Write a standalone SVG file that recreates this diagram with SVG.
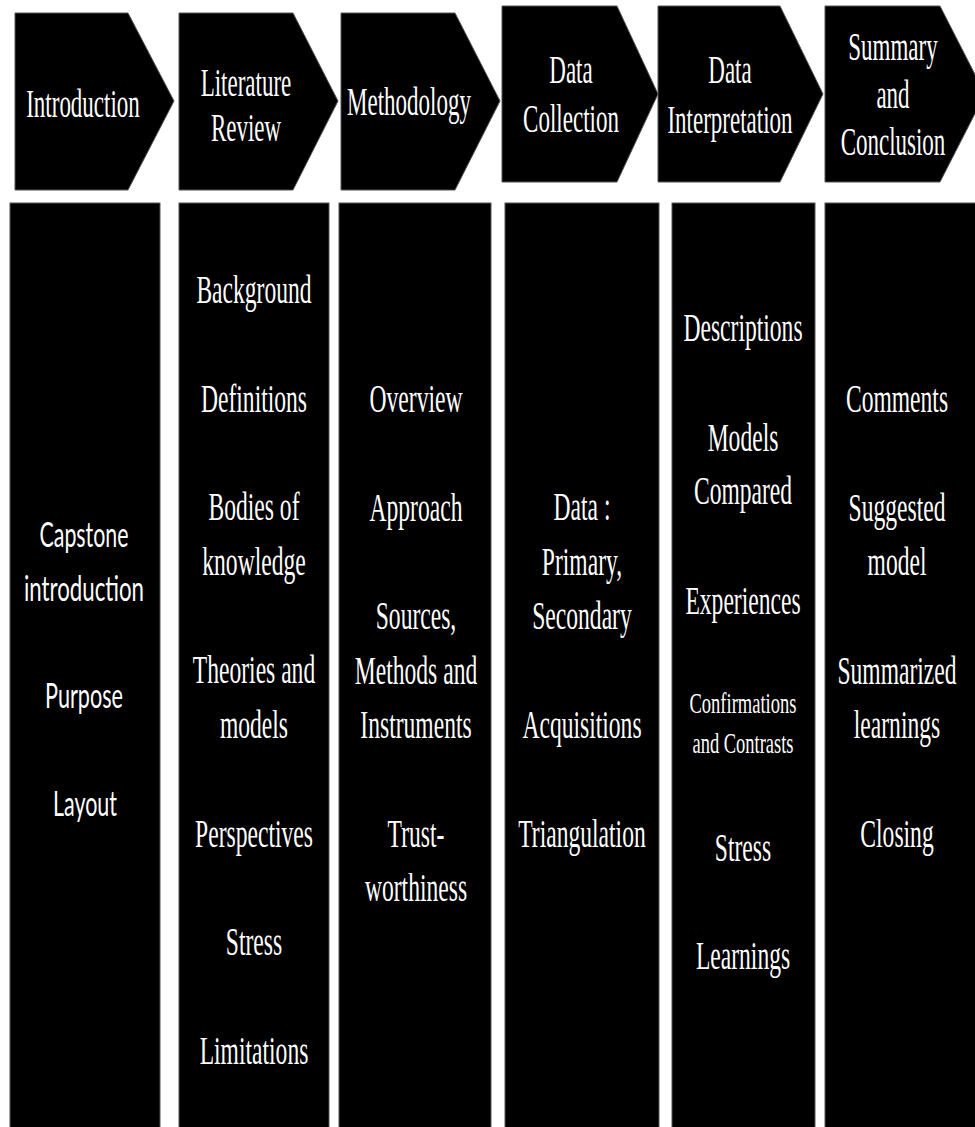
<svg xmlns="http://www.w3.org/2000/svg" width="975" height="1127" viewBox="0 0 975 1127">
<style>
.shape{fill:#000;stroke:#555;stroke-width:1}
.t{font-family:"Liberation Serif","Times New Roman",serif;fill:#fff;text-anchor:middle}
.h{font-size:40px}
.b{font-size:41px}
.s{font-size:30px}
.sans{font-family:Lato,"Liberation Sans",Arial,sans-serif;font-size:35px;fill:#fff;text-anchor:middle}
</style>
<rect x="0" y="0" width="975" height="1127" fill="#fff"/>
<g id="stages">
<g id="stage-introduction">
<path class="shape" d="M15,13 L128,13 L174,101 L128,190 L15,190 Z"/>
<g transform="translate(83 0) scale(0.575 1)"><text class="t h" x="0" y="117">Introduction</text></g>
</g>
<g id="stage-literature">
<path class="shape" d="M179,13 L293,13 L338,101 L293,190 L179,190 Z"/>
<g transform="translate(246 0) scale(0.575 1)"><text class="t h" x="0" y="96">Literature</text><text class="t h" x="0" y="141">Review</text></g>
</g>
<g id="stage-methodology">
<path class="shape" d="M341,13 L455,13 L500,101 L455,190 L341,190 Z"/>
<g transform="translate(409 0) scale(0.575 1)"><text class="t h" x="0" y="115">Methodology</text></g>
</g>
<g id="stage-collection">
<path class="shape" d="M502,6 L617,6 L658,94 L617,182 L502,182 Z"/>
<g transform="translate(571 0) scale(0.575 1)"><text class="t h" x="0" y="83">Data</text><text class="t h" x="0" y="132">Collection</text></g>
</g>
<g id="stage-interpretation">
<path class="shape" d="M658,6 L780,6 L823,94 L780,182 L658,182 Z"/>
<g transform="translate(730 0) scale(0.575 1)"><text class="t h" x="0" y="83">Data</text><text class="t h" x="0" y="133">Interpretation</text></g>
</g>
<g id="stage-summary">
<path class="shape" d="M825,6 L940,6 L985,94 L940,182 L825,182 Z"/>
<g transform="translate(893 0) scale(0.575 1)"><text class="t h" x="0" y="60">Summary</text><text class="t h" x="0" y="108">and</text><text class="t h" x="0" y="155">Conclusion</text></g>
</g>
</g>
<g id="connectors"></g>
<g id="col-introduction">
<rect class="shape" x="10" y="203" width="150" height="930"/>
<text class="sans" x="84" y="547" textLength="89" lengthAdjust="spacingAndGlyphs">Capstone</text>
<text class="sans" x="84" y="601" textLength="120" lengthAdjust="spacingAndGlyphs">introduction</text>
<text class="sans" x="84" y="708" textLength="78" lengthAdjust="spacingAndGlyphs">Purpose</text>
<text class="sans" x="85" y="816" textLength="64" lengthAdjust="spacingAndGlyphs">Layout</text>
</g>
<g id="col-literature">
<rect class="shape" x="179" y="203" width="150" height="930"/>
<g transform="translate(254 0) scale(0.575 1)">
<text class="t b" x="0" y="303">Background</text>
<text class="t b" x="0" y="412">Definitions</text>
<text class="t b" x="0" y="520">Bodies of</text>
<text class="t b" x="0" y="575">knowledge</text>
<text class="t b" x="0" y="683">Theories and</text>
<text class="t b" x="0" y="738">models</text>
<text class="t b" x="0" y="847">Perspectives</text>
<text class="t b" x="0" y="955">Stress</text>
<text class="t b" x="0" y="1064">Limitations</text>
</g>
</g>
<g id="col-methodology">
<rect class="shape" x="339" y="203" width="152" height="930"/>
<g transform="translate(416 0) scale(0.575 1)">
<text class="t b" x="0" y="412">Overview</text>
<text class="t b" x="0" y="521">Approach</text>
<text class="t b" x="0" y="629">Sources,</text>
<text class="t b" x="0" y="684">Methods and</text>
<text class="t b" x="0" y="738">Instruments</text>
<text class="t b" x="0" y="847">Trust-</text>
<text class="t b" x="0" y="901">worthiness</text>
</g>
</g>
<g id="col-collection">
<rect class="shape" x="505" y="203" width="154" height="930"/>
<g transform="translate(582 0) scale(0.575 1)">
<text class="t b" x="0" y="520">Data :</text>
<text class="t b" x="0" y="575">Primary,</text>
<text class="t b" x="0" y="629">Secondary</text>
<text class="t b" x="0" y="738">Acquisitions</text>
<text class="t b" x="0" y="847">Triangulation</text>
</g>
</g>
<g id="col-interpretation">
<rect class="shape" x="672" y="203" width="143" height="930"/>
<g transform="translate(743 0) scale(0.575 1)">
<text class="t b" x="0" y="341">Descriptions</text>
<text class="t b" x="0" y="451">Models</text>
<text class="t b" x="0" y="504">Compared</text>
<text class="t b" x="0" y="614">Experiences</text>
<text class="t b" x="0" y="861">Stress</text>
<text class="t b" x="0" y="969">Learnings</text>
</g>
<text class="t s" x="743" y="713" textLength="107" lengthAdjust="spacingAndGlyphs">Confirmations</text>
<text class="t s" x="743" y="753" textLength="101" lengthAdjust="spacingAndGlyphs">and Contrasts</text>
</g>
<g id="col-summary">
<rect class="shape" x="825" y="203" width="160" height="930"/>
<g transform="translate(897 0) scale(0.575 1)">
<text class="t b" x="0" y="412">Comments</text>
<text class="t b" x="0" y="521">Suggested</text>
<text class="t b" x="0" y="575">model</text>
<text class="t b" x="0" y="684">Summarized</text>
<text class="t b" x="0" y="738">learnings</text>
<text class="t b" x="0" y="847">Closing</text>
</g>
</g>
</svg>
